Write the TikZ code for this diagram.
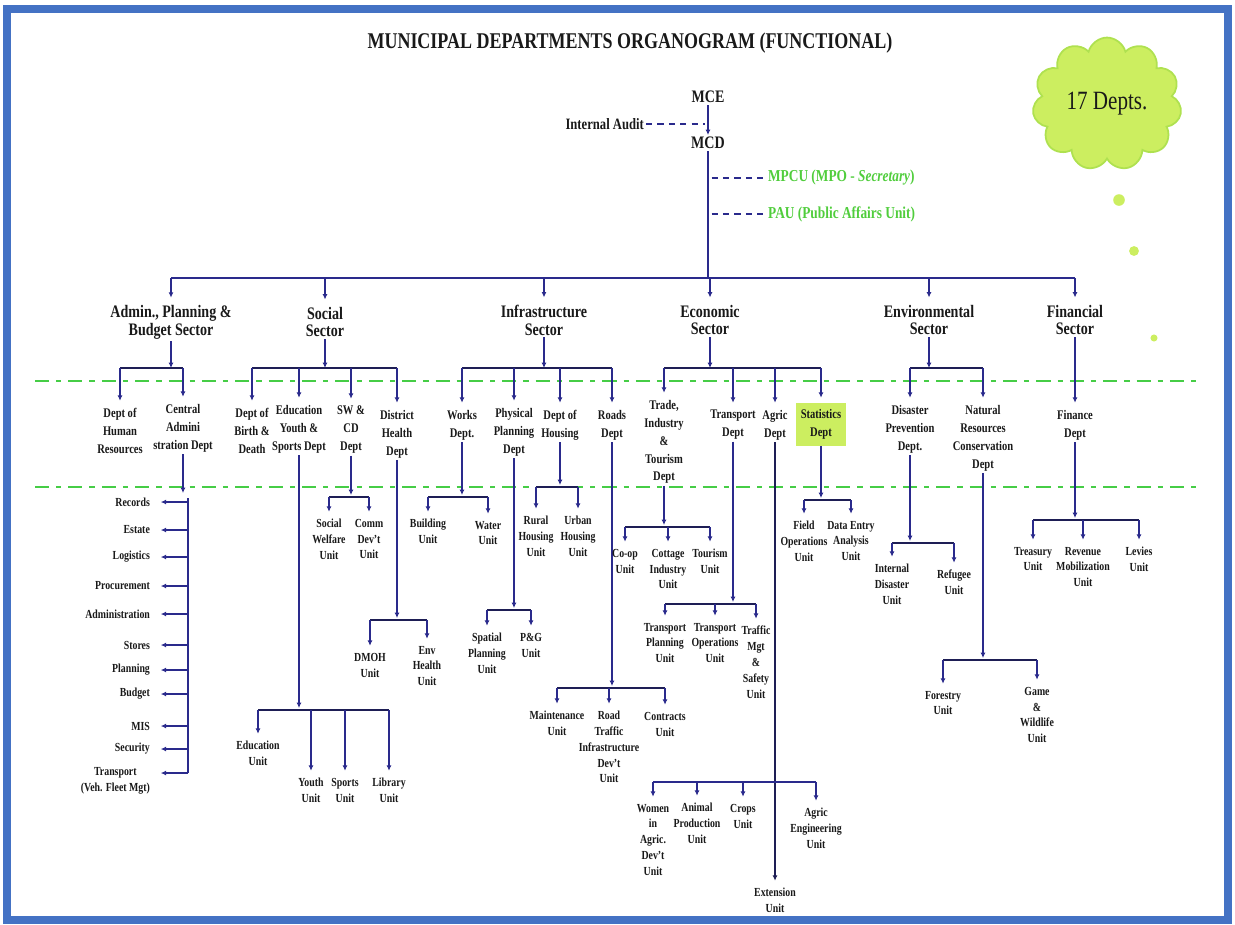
\documentclass[tikz,border=0pt]{standalone}
\usepackage{fontspec}
\setmainfont{Liberation Serif}[FakeStretch=0.8]
\usetikzlibrary{arrows.meta,positioning,shapes.symbols}
\definecolor{orgnavy}{RGB}{42,42,140}
\definecolor{railink}{RGB}{30,30,85}
\definecolor{bandgreen}{RGB}{70,205,70}
\definecolor{aidgreen}{RGB}{80,205,60}
\definecolor{frameblue}{RGB}{68,114,196}
\definecolor{limefill}{RGB}{204,238,96}
\definecolor{limeedge}{RGB}{175,225,80}

\begin{document}
\begin{tikzpicture}[x=0.02cm, y=-0.02cm, font=\bfseries, text=black!90,
        ttl/.style={font=\bfseries\fontsize{12.8}{14}\selectfont},
        topbox/.style={font=\bfseries\fontsize{10}{12}\selectfont, inner sep=1pt},
        secbox/.style={align=center, inner sep=1pt, font=\bfseries\fontsize{10}{10.2}\selectfont},
        deptbox/.style={align=center, anchor=north, inner sep=1pt, font=\bfseries\fontsize{7.5}{10.2}\selectfont},
        unitbox/.style={align=center, anchor=north, inner sep=1pt, font=\bfseries\fontsize{7}{9}\selectfont},
        listbox/.style={align=center, anchor=east, inner sep=1pt, font=\bfseries\fontsize{7}{9}\selectfont},
        feed/.style={draw=orgnavy, line width=0.9pt, -{Latex[length=3pt,width=2.8pt]}},
        link/.style={feed, shorten >=3pt},
        rail/.style={draw=railink, line width=1.1pt},
        band/.style={draw=bandgreen, line width=1.3pt, dash pattern=on 8pt off 4pt on 3pt off 4pt},
        tie/.style={draw=orgnavy, line width=0.9pt, dash pattern=on 3.5pt off 3pt}]
    \useasboundingbox (0,0) rectangle (1235,924);
    \draw[frameblue, line width=5pt] (7,9) rectangle (1228,920);

    % top of the chart
    \node[ttl] (title) at (630,43) {MUNICIPAL DEPARTMENTS ORGANOGRAM (FUNCTIONAL)};
    \node[topbox] (mce) at (708,97) {MCE};
    \node[topbox] (mcd) at (708,143) {MCD};
    \node[topbox, anchor=east, font=\bfseries\fontsize{9}{10}\selectfont] (audit) at (646,124) {Internal Audit};
    \node[anchor=west, text=aidgreen, inner sep=1pt, font=\bfseries\fontsize{9.5}{11}\selectfont] (mpcu) at (766,178) {MPCU (MPO - \textit{Secretary})};
    \node[anchor=west, text=aidgreen, inner sep=1pt, font=\bfseries\fontsize{9.5}{11}\selectfont] (pau) at (766,214) {PAU (Public Affairs Unit)};
    \node[cloud, cloud puffs=11, aspect=1.2, fill=limefill, draw=limeedge, line width=1pt,
        minimum width=2.4cm, minimum height=2.1cm, font=\mdseries\fontsize{15}{17}\selectfont] (depts) at (1107,104) {17 Depts.};
    \fill[limefill] (1119,200) circle[radius=3.3pt];
    \fill[limefill] (1134,251) circle[radius=2.8pt];
    \fill[limefill] (1154,338) circle[radius=2pt];

    \coordinate (auditjoin) at (705,124);
    \coordinate (hub) at (708,278);
    \draw[feed] (mce) -- (mcd);
    \draw[tie] (audit) -- (auditjoin);
    \draw[orgnavy, line width=0.9pt] (mcd) -- (hub);
    \draw[tie] ([xshift=2pt]mcd.south |- mpcu.west) -- (mpcu.west);
    \draw[tie] ([xshift=2pt]mcd.south |- pau.west) -- (pau.west);

    % green bands
    \draw[band] (35,381) -- (1200,381);
    \draw[band] (35,487) -- (1200,487);

    % sectors
    \node[secbox] (adm) at (171,322) {Admin., Planning \&\\Budget Sector};
    \node[secbox] (soc) at (325,322) {Social\\Sector};
    \node[secbox] (inf) at (544,320) {Infrastructure\\Sector};
    \node[secbox] (eco) at (710,320) {Economic\\Sector};
    \node[secbox] (env) at (929,320) {Environmental\\Sector};
    \node[secbox] (fin) at (1075,320) {Financial\\Sector};
    \draw[orgnavy, line width=1.1pt] (adm.north |- hub) -- (fin.north |- hub);
    \foreach \s in {adm,soc,inf,eco,env,fin}
        \draw[link] (\s.north |- hub) -- (\s.north);

    % departments
    \node[deptbox] (hr) at (120,406) {Dept of\\Human\\Resources};
    \node[deptbox] (cad) at (183,402) {Central\\Admini\\stration Dept};
    \node[deptbox] (bd) at (252,406) {Dept of\\Birth \&\\Death};
    \node[deptbox] (eys) at (299,403) {Education\\Youth \&\\Sports Dept};
    \node[deptbox] (swcd) at (351,404) {SW \&\\CD\\Dept};
    \node[deptbox] (dhd) at (397,408) {District\\Health\\Dept};
    \node[deptbox] (wks) at (462,408) {Works\\Dept.};
    \node[deptbox] (ppd) at (514,406) {Physical\\Planning\\Dept};
    \node[deptbox] (hsg) at (560,408) {Dept of\\Housing};
    \node[deptbox] (rds) at (612,408) {Roads\\Dept};
    \node[deptbox] (trd) at (664,398) {Trade,\\Industry\\\&\\Tourism\\Dept};
    \node[deptbox] (tpd) at (733,408) {Transport\\Dept};
    \node[deptbox] (agd) at (775,408) {Agric\\Dept};
    \node[deptbox, fill=limefill, inner sep=3pt, minimum width=28pt, minimum height=24pt] (std) at (821,403) {Statistics\\Dept};
    \node[deptbox] (dpd) at (910,403) {Disaster\\Prevention\\Dept.};
    \node[deptbox] (nrc) at (983,403) {Natural\\Resources\\Conservation\\Dept};
    \node[deptbox] (fnd) at (1075,408) {Finance\\Dept};

    \coordinate (deptrow) at (0,368);
    \draw[feed] (adm.south) -- (adm.south |- deptrow);
    \draw[rail] (hr.north |- deptrow) -- (cad.north |- deptrow);
    \foreach \d in {hr,cad} \draw[link] (\d.north |- deptrow) -- (\d.north);
    \draw[feed] (soc.south) -- (soc.south |- deptrow);
    \draw[rail] (bd.north |- deptrow) -- (dhd.north |- deptrow);
    \foreach \d in {bd,eys,swcd,dhd} \draw[link] (\d.north |- deptrow) -- (\d.north);
    \draw[feed] (inf.south) -- (inf.south |- deptrow);
    \draw[rail] (wks.north |- deptrow) -- (rds.north |- deptrow);
    \foreach \d in {wks,ppd,hsg,rds} \draw[link] (\d.north |- deptrow) -- (\d.north);
    \draw[feed] (eco.south) -- (eco.south |- deptrow);
    \draw[rail] (trd.north |- deptrow) -- (std.north |- deptrow);
    \foreach \d in {trd,tpd,agd,std} \draw[link] (\d.north |- deptrow) -- (\d.north);
    \draw[feed] (env.south) -- (env.south |- deptrow);
    \draw[rail] (dpd.north |- deptrow) -- (nrc.north |- deptrow);
    \foreach \d in {dpd,nrc} \draw[link] (\d.north |- deptrow) -- (\d.north);
    \draw[link] (fin) -- (fnd);

    % central administration list
    \node[listbox] (rec) at (152,502) {Records};
    \node[listbox] (est) at (152,530) {Estate};
    \node[listbox] (lgs) at (152,557) {Logistics};
    \node[listbox] (prc) at (152,586) {Procurement};
    \node[listbox] (adn) at (152,614) {Administration};
    \node[listbox] (sto) at (152,645) {Stores};
    \node[listbox] (pln) at (152,670) {Planning};
    \node[listbox] (bdg) at (152,694) {Budget};
    \node[listbox] (mis) at (152,726) {MIS};
    \node[listbox] (scr) at (152,749) {Security};
    \node[listbox] (trn) at (152,781) {Transport\\(Veh. Fleet Mgt)};
    \coordinate (listtop) at (188,498);
    \coordinate (listbot) at (188,773);
    \draw[feed] (cad.south) -- (cad.south |- 0,493);
    \draw[rail, draw=orgnavy] (listtop) -- (listbot);
    \foreach \u in {rec,est,lgs,prc,adn,sto,pln,bdg,mis,scr}
        \draw[link, shorten >=5pt] (listtop |- \u.east) -- (\u.east);
    \draw[link, shorten >=5pt] (listbot) -- (trn.east |- listbot);

    % social units
    \node[unitbox] (swu) at (329,517) {Social\\Welfare\\Unit};
    \node[unitbox] (cdu) at (369,517) {Comm\\Dev't\\Unit};
    \draw[feed] (swcd.south) -- (swcd.south |- 0,495);
    \draw[rail] (swu.north |- 0,497) -- (cdu.north |- 0,497);
    \foreach \u in {swu,cdu} \draw[link] (\u.north |- 0,497) -- (\u.north);

    \node[unitbox] (dmoh) at (370,651) {DMOH\\Unit};
    \node[unitbox] (ehu) at (427,644) {Env\\Health\\Unit};
    \draw[feed] (dhd.south) -- (dhd.south |- 0,618);
    \draw[rail] (dmoh.north |- 0,620) -- (ehu.north |- 0,620);
    \foreach \u in {dmoh,ehu} \draw[link] (\u.north |- 0,620) -- (\u.north);

    \node[unitbox] (edu) at (258,739) {Education\\Unit};
    \node[unitbox] (you) at (311,776) {Youth\\Unit};
    \node[unitbox] (spt) at (345,776) {Sports\\Unit};
    \node[unitbox] (lib) at (389,776) {Library\\Unit};
    \draw[feed] (eys.south) -- (eys.south |- 0,708);
    \draw[rail] (edu.north |- 0,710) -- (lib.north |- 0,710);
    \foreach \u in {edu,you,spt,lib} \draw[link] (\u.north |- 0,710) -- (\u.north);

    % infrastructure units
    \node[unitbox] (bdu) at (428,517) {Building\\Unit};
    \node[unitbox] (wtu) at (488,519) {Water\\Unit};
    \draw[feed] (wks.south) -- (wks.south |- 0,495);
    \draw[rail] (bdu.north |- 0,497) -- (wtu.north |- 0,497);
    \foreach \u in {bdu,wtu} \draw[link] (\u.north |- 0,497) -- (\u.north);

    \node[unitbox] (spu) at (487,631) {Spatial\\Planning\\Unit};
    \node[unitbox] (pgu) at (531,631) {P\&G\\Unit};
    \draw[feed] (ppd.south) -- (ppd.south |- 0,608);
    \draw[rail] (spu.north |- 0,610) -- (pgu.north |- 0,610);
    \foreach \u in {spu,pgu} \draw[link] (\u.north |- 0,610) -- (\u.north);

    \node[unitbox] (rhu) at (536,514) {Rural\\Housing\\Unit};
    \node[unitbox] (uhu) at (578,514) {Urban\\Housing\\Unit};
    \draw[feed] (hsg.south) -- (hsg.south |- 0,485);
    \draw[rail] (rhu.north |- 0,487) -- (uhu.north |- 0,487);
    \foreach \u in {rhu,uhu} \draw[link] (\u.north |- 0,487) -- (\u.north);

    \node[unitbox] (mtu) at (557,709) {Maintenance\\Unit};
    \node[unitbox] (rti) at (609,709) {Road\\Traffic\\Infrastructure\\Dev't\\Unit};
    \node[unitbox] (ctu) at (665,710) {Contracts\\Unit};
    \draw[feed] (rds.south) -- (rds.south |- 0,686);
    \draw[rail] (mtu.north |- 0,688) -- (ctu.north |- 0,688);
    \foreach \u in {mtu,rti,ctu} \draw[link] (\u.north |- 0,688) -- (\u.north);

    % economic units
    \node[unitbox] (cou) at (625,547) {Co-op\\Unit};
    \node[unitbox] (ciu) at (668,547) {Cottage\\Industry\\Unit};
    \node[unitbox] (tru) at (710,547) {Tourism\\Unit};
    \draw[feed] (trd.south) -- (trd.south |- 0,525);
    \draw[rail] (cou.north |- 0,527) -- (tru.north |- 0,527);
    \foreach \u in {cou,ciu,tru} \draw[link] (\u.north |- 0,527) -- (\u.north);

    \node[unitbox] (tpu) at (665,621) {Transport\\Planning\\Unit};
    \node[unitbox] (tou) at (715,621) {Transport\\Operations\\Unit};
    \node[unitbox] (tms) at (756,624) {Traffic\\Mgt\\\&\\Safety\\Unit};
    \draw[feed] (tpd.south) -- (tpd.south |- 0,602);
    \draw[rail] (tpu.north |- 0,604) -- (tms.north |- 0,604);
    \foreach \u in {tpu,tou,tms} \draw[link] (\u.north |- 0,604) -- (\u.north);

    \node[unitbox] (wia) at (653,802) {Women\\in\\Agric.\\Dev't\\Unit};
    \node[unitbox] (apu) at (697,801) {Animal\\Production\\Unit};
    \node[unitbox] (cru) at (743,802) {Crops\\Unit};
    \node[unitbox] (aeu) at (816,806) {Agric\\Engineering\\Unit};
    \node[unitbox] (ext) at (775,886) {Extension\\Unit};
    \draw[link, draw=railink] (agd.south) -- (ext.north);
    \draw[rail, draw=orgnavy] (wia.north |- 0,782) -- (aeu.north |- 0,782);
    \foreach \u in {wia,apu,cru,aeu} \draw[link] (\u.north |- 0,782) -- (\u.north);

    \node[unitbox] (fou) at (804,519) {Field\\Operations\\Unit};
    \node[unitbox] (deu) at (851,519) {Data Entry\\Analysis\\Unit};
    \draw[feed] (std.south) -- (std.south |- 0,498);
    \draw[rail] (fou.north |- 0,500) -- (deu.north |- 0,500);
    \foreach \u in {fou,deu} \draw[link] (\u.north |- 0,500) -- (\u.north);

    % environmental units
    \node[unitbox] (idu) at (892,562) {Internal\\Disaster\\Unit};
    \node[unitbox] (rfu) at (954,568) {Refugee\\Unit};
    \draw[feed] (dpd.south) -- (dpd.south |- 0,541);
    \draw[rail] (idu.north |- 0,543) -- (rfu.north |- 0,543);
    \foreach \u in {idu,rfu} \draw[link] (\u.north |- 0,543) -- (\u.north);

    \node[unitbox] (fru) at (943,689) {Forestry\\Unit};
    \node[unitbox] (gwu) at (1037,685) {Game\\\&\\Wildlife\\Unit};
    \draw[feed] (nrc.south) -- (nrc.south |- 0,658);
    \draw[rail] (fru.north |- 0,660) -- (gwu.north |- 0,660);
    \foreach \u in {fru,gwu} \draw[link] (\u.north |- 0,660) -- (\u.north);

    % financial units
    \node[unitbox] (tsu) at (1033,545) {Treasury\\Unit};
    \node[unitbox] (rmu) at (1083,545) {Revenue\\Mobilization\\Unit};
    \node[unitbox] (lvu) at (1139,545) {Levies\\Unit};
    \draw[feed] (fnd.south) -- (fnd.south |- 0,518);
    \draw[rail] (tsu.north |- 0,520) -- (lvu.north |- 0,520);
    \foreach \u in {tsu,rmu,lvu} \draw[link] (\u.north |- 0,520) -- (\u.north);
\end{tikzpicture}
\end{document}
